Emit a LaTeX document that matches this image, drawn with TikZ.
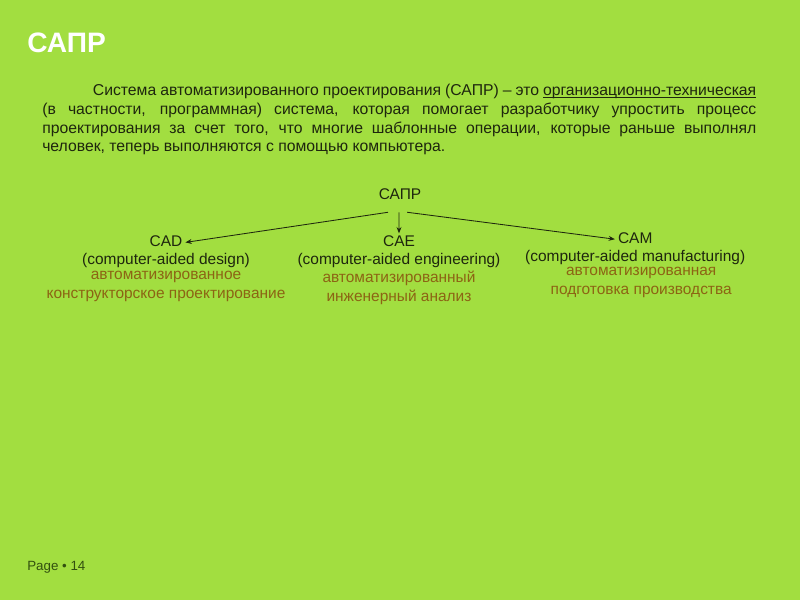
\documentclass[tikz,border=0pt]{standalone}
\usepackage{fontspec}
\setmainfont{Liberation Sans}
\usetikzlibrary{positioning, arrows.meta}

\definecolor{limebg}{RGB}{162,222,64}
\definecolor{inkdark}{RGB}{30,38,14}
\definecolor{brownru}{RGB}{140,100,20}
\definecolor{pagegreen}{RGB}{50,80,15}

% underline at a fixed depth just under the baseline
\newcommand{\ulword}[1]{\leavevmode\setbox0\hbox{#1}\rlap{\rule[-1.6pt]{\wd0}{0.5pt}}\box0}

\begin{document}
\begin{tikzpicture}[
  lbl/.style={inner xsep=2pt, inner ysep=1pt, text height=8pt, text depth=2.5pt,
              text=inkdark, font=\fontsize{11}{13}\selectfont},
  ru/.style={inner sep=0pt, align=center, text=brownru,
             font=\fontsize{11}{13.6}\selectfont},
  arr/.style={-{Stealth[length=4.5pt, width=3.5pt]}, line width=0.6pt, draw=inkdark}
]
  \useasboundingbox[fill=limebg] (0,0) rectangle (20,-15);
  \node[anchor=west, text=white, font=\fontsize{20}{24}\bfseries\selectfont, inner sep=0pt]
        (title) at (0.675,-1.07) {САПР};
  \node[anchor=north west, inner sep=0pt, text width=17.85cm, align=justify, text=inkdark,
        font=\fontsize{11.2}{13.3}\selectfont] (intro) at (1.05,-2.1)
        {\hspace*{36pt}Система автоматизированного проектирования (САПР) – это \ulword{организационно-техническая}\linebreak
         (в частности, программная) система, которая помогает разработчику упростить процесс\linebreak
         проектирования за счет того, что многие шаблонные операции, которые раньше выполнял\linebreak
         человек, теперь выполняются с помощью компьютера.};

  \node[lbl] (sapr) at (10,-4.88) {САПР};
  \node[lbl] (cad) at (4.15,-6.06) {CAD};
  \node[lbl, below=0.0cm of cad]      (cadfull) {(computer-aided design)};
  \node[ru,  below=0.02cm of cadfull] (cadru)   {автоматизированное\\конструкторское проектирование};
  \node[lbl] (cae) at (9.975,-6.06) {CAE};
  \node[lbl, below=0.0cm of cae]      (caefull) {(computer-aided engineering)};
  \node[ru,  below=0.02cm of caefull] (caeru)   {автоматизированный\\инженерный анализ};
  \node[lbl] (cam) at (15.88,-5.98) {CAM};
  \node[lbl, below=0.0cm of cam]      (camfull) {(computer-aided manufacturing)};
  \node[ru,  below=0.02cm of camfull, xshift=0.15cm] (camru) {автоматизированная\\подготовка производства};

  \draw[arr] ([xshift=-0.3cm, yshift=-0.2cm]sapr.south) -- (cad.east);
  \draw[arr] ([xshift=-0.025cm, yshift=-0.2cm]sapr.south) -- (cae.north);
  \draw[arr] ([xshift=0.18cm, yshift=-0.2cm]sapr.south) -- (cam.west);

  \node[anchor=west, inner sep=0pt, text=pagegreen, font=\fontsize{9.5}{11}\selectfont]
        (page) at (0.675,-14.18) {Page • 14};
\end{tikzpicture}
\end{document}
